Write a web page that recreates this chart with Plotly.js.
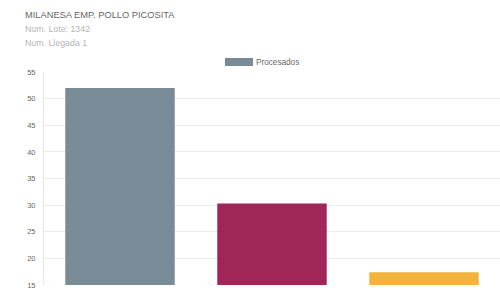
<!DOCTYPE html>
<html>
<head>
<meta charset="utf-8">
<script src="https://cdn.plot.ly/plotly-3.0.1.min.js"></script>
<style>html,body{margin:0;padding:0;background:#fff;}#chart{width:500px;height:297px;}</style>
</head>
<body>
<div id="chart"></div>
<script>
var categories = ["Procesados A", "Procesados B", "Procesados C"];
var values = [52, 30.3, 17.4];
var barColors = ["#798b97", "#a02658", "#f2b43c"];
var seriesName = "Procesados";
var chartTitle = "MILANESA EMP. POLLO PICOSITA";
var subtitle1 = "Num. Lote: 1342";
var subtitle2 = "Num. Llegada 1";
var yTicks = [15, 20, 25, 30, 35, 40, 45, 50, 55];

var trace = {
  type: "bar",
  x: categories,
  y: values,
  name: seriesName,
  width: 0.72,
  marker: {color: barColors},
  showlegend: false,
  hoverinfo: "y"
};

var layout = {
  width: 500, height: 297,
  margin: {l: 44, r: 0, t: 72, b: 12},
  paper_bgcolor: "#fff", plot_bgcolor: "#fff",
  font: {family: "Liberation Sans, Arial, sans-serif", color: "#666"},
  xaxis: {showticklabels: false, showgrid: false, zeroline: false, showline: false, ticks: ""},
  yaxis: {range: [15, 55], tickvals: yTicks, ticktext: yTicks.map(String), showgrid: true, gridcolor: "#ececec", gridwidth: 1,
          zeroline: false, showline: true, linecolor: "#e6e6e6", linewidth: 1, ticks: "", ticklen: 0,
          tickfont: {size: 7.5, color: "#666"}, ticklabelstandoff: 6},
  shapes: [
    {type: "rect", xref: "paper", yref: "paper", x0: (225-44)/456, x1: (253-44)/456, y0: (285-66)/213, y1: (285-58)/213,
     fillcolor: barColors[0], line: {width: 0}}
  ],
  annotations: [
    {text: chartTitle, xref: "paper", yref: "paper", x: (23-44)/456, y: (285-15)/213, xanchor: "left", yanchor: "middle",
     showarrow: false, font: {size: 9.3, color: "#666"}},
    {text: subtitle1, xref: "paper", yref: "paper", x: (23-44)/456, y: (285-29)/213, xanchor: "left", yanchor: "middle",
     showarrow: false, font: {size: 8.8, color: "#b5b5b5"}},
    {text: subtitle2, xref: "paper", yref: "paper", x: (23-44)/456, y: (285-43)/213, xanchor: "left", yanchor: "middle",
     showarrow: false, font: {size: 8.8, color: "#b5b5b5"}},
    {text: seriesName, xref: "paper", yref: "paper", x: (254-44)/456, y: (285-62)/213, xanchor: "left", yanchor: "middle",
     showarrow: false, font: {size: 8.2, color: "#666"}}
  ]
};

Plotly.newPlot("chart", [trace], layout, {displayModeBar: false, staticPlot: true});
</script>
</body>
</html>
